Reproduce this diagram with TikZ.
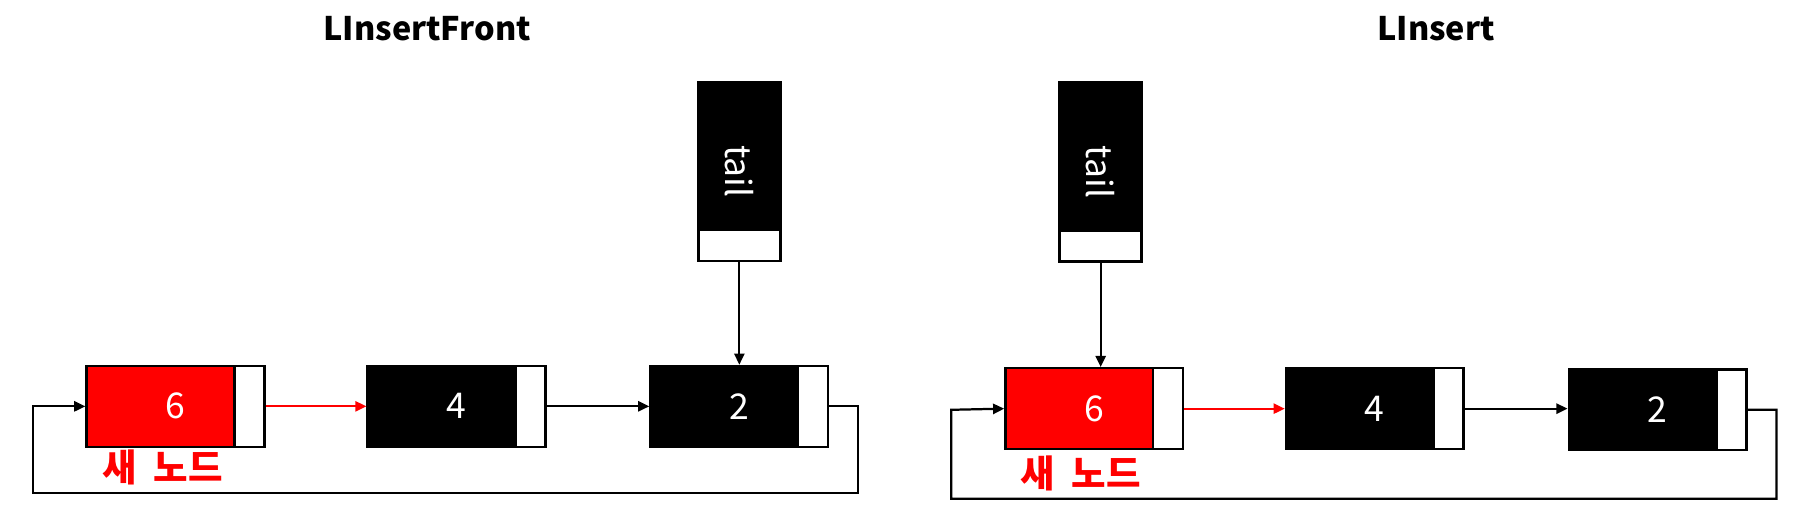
\documentclass[tikz,border=0pt]{standalone}
\usepackage{fontspec}
\setmainfont{Noto Sans CJK KR}
\usetikzlibrary{arrows.meta}

\begin{document}
\begin{tikzpicture}[
                x=.02cm, y=-.02cm,
                cell/.style={draw=black, line width=1.2pt, minimum width=3.08cm,
                    minimum height=1.4cm, inner sep=0pt, text=white,
                    font=\fontsize{17.5}{20}\selectfont},
                ptr/.style={draw=black, fill=white, line width=1.2pt,
                    minimum width=.52cm, minimum height=1.4cm, inner sep=0pt},
                tailbox/.style={draw=black, fill=black, line width=1.2pt,
                    minimum width=1.42cm, minimum height=3.1cm, inner sep=0pt,
                    text=white, font=\fontsize{17.5}{20}\selectfont},
                tailptr/.style={draw=black, fill=white, line width=1.2pt,
                    minimum width=1.42cm, minimum height=.54cm, inner sep=0pt},
                link/.style={line width=1.1pt, -{Triangle[length=5.5pt, width=5pt]}},
                ttl/.style={font=\fontsize{16}{19}\selectfont\bfseries},
                newlbl/.style={text=red, font=\fontsize{18.5}{21}\selectfont\bfseries},
            ]
                \useasboundingbox (0, 0) rectangle (1568, 441);

                %% LInsertFront
                \node[ttl] (t1) at (370, 25) {LInsertFront};

                \node[cell, fill=red] (a6) at (152, 352) {6};
                \node[ptr, anchor=east] (pa6) at (a6.east) {};
                \node[cell, fill=black] (a4) at (395.5, 352) {4};
                \node[ptr, anchor=east] (pa4) at (a4.east) {};
                \node[cell, fill=black] (a2) at (640.5, 352) {2};
                \node[ptr, anchor=east] (pa2) at (a2.east) {};
                \node[newlbl] (new1) at (141, 405) {새\hspace{.45em}노드};

                \node[tailbox] (tail1) at (640.5, 148.5) {\rotatebox{-90}{tail}};
                \node[tailptr, anchor=south] (ptail1) at (tail1.south) {};

                \draw[link, draw=red] (pa6.east) -- (a4.west);
                \draw[link] (pa4.east) -- (a2.west);
                \draw[link] (ptail1.south) -- (a2.north);
                \draw[link] (pa2.east) -| ++(25, 75) -| ++(-715, -75) -- (a6.west);

                %% LInsert
                \node[ttl] (t2) at (1244, 25) {LInsert};

                \node[cell, fill=red] (b6) at (948, 354) {6};
                \node[ptr, anchor=east] (pb6) at (b6.east) {};
                \node[cell, fill=black] (b4) at (1191, 354) {4};
                \node[ptr, anchor=east] (pb4) at (b4.east) {};
                \node[cell, fill=black] (b2) at (1436, 355) {2};
                \node[ptr, anchor=east] (pb2) at (b2.east) {};
                \node[newlbl] (new2) at (936, 410) {새\hspace{.45em}노드};

                \node[tailbox] (tail2) at (953.5, 149) {\rotatebox{-90}{tail}};
                \node[tailptr, anchor=south] (ptail2) at (tail2.south) {};

                \draw[link, draw=red] (pb6.east) -- (b4.west);
                \draw[link] (pb4.east) -- (pb4.east -| b2.west);
                \draw[link] (ptail2.south) -- (ptail2.south |- b6.north);
                \draw[link] (pb2.east) -| ++(25, 77) -| ++(-715, -77) -- (b6.west);
            \end{tikzpicture}
\end{document}
